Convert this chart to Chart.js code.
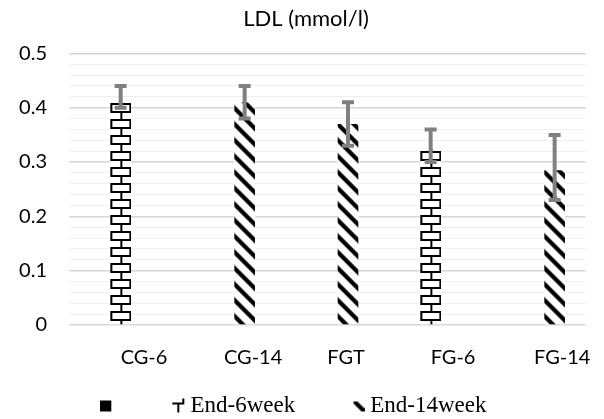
<!DOCTYPE html>
<html>
<head>
<meta charset="utf-8">
<title>LDL (mmol/l)</title>
<script src="https://cdn.jsdelivr.net/npm/chart.js@4.4.0/dist/chart.umd.min.js"></script>
<style>
    html, body { margin: 0; padding: 0; background: #fff; }
    #wrap { width: 604px; height: 419px; }
</style>
</head>
<body>
<div id="wrap"><canvas id="ldl-chart" width="604" height="419"></canvas></div>
<script>
// Chart data
const groups = ['CG-6', 'CG-14', 'FGT', 'FG-6', 'FG-14'];
const seriesNames = ['', 'End-6week', 'End-14week'];
const blankValues = [null, null, null, null, null];
const week6Values = [0.41, null, null, 0.325, null];
const week14Values = [null, 0.41, 0.37, null, 0.285];
const week6ErrHigh = [0.44, null, null, 0.36, null];
const week6ErrLow = [0.40, null, null, 0.30, null];
const week14ErrHigh = [null, 0.44, 0.41, null, 0.35];
const week14ErrLow = [null, 0.38, 0.33, null, 0.23];
const yTicks = [0, 0.1, 0.2, 0.3, 0.4, 0.5];

const CAT_PCT = 0.6;
const tileCache = {};

/**
 * Brick tile, one brick wide, joints alternate centre / edges
 */
function makeBrickTile(width) {
    const tile = document.createElement('canvas');
    tile.width = width;
    tile.height = 16;
    const g = tile.getContext('2d');
    g.fillStyle = '#fff';
    g.fillRect(0, 0, width, 16);
    g.fillStyle = '#000';
    g.fillRect(0, 0, width, 2);
    g.fillRect(Math.round(width / 2) - 1, 2, 2, 6);
    g.fillRect(0, 8, width, 2);
    g.fillRect(0, 10, 2, 6);
    g.fillRect(width - 2, 10, 2, 6);
    return tile;
}

/**
 * Wide downward diagonal tile
 */
function makeStripeTile(background) {
    const tile = document.createElement('canvas');
    tile.width = 16;
    tile.height = 16;
    const g = tile.getContext('2d');
    if (background) {
        g.fillStyle = background;
        g.fillRect(0, 0, 16, 16);
    }
    g.fillStyle = '#000';
    [-16, 0, 16].forEach(o => {
        g.beginPath();
        g.moveTo(o, 0);
        g.lineTo(o + 6, 0);
        g.lineTo(o + 22, 16);
        g.lineTo(o + 16, 16);
        g.closePath();
        g.fill();
    });
    return tile;
}

/**
 * Pattern fill lined up with the bar it paints
 */
function barPattern(context, kind) {
    const chart = context.chart;
    const xScale = chart.scales.x;
    if (!xScale || !chart.chartArea || context.dataIndex === undefined) return '#000';
    const slot = xScale.width / groups.length * CAT_PCT / 3;
    const center = xScale.getPixelForValue(context.dataIndex);
    const left = center + (context.datasetIndex - 1.5) * slot;
    if (!isFinite(left) || !isFinite(slot) || slot <= 0) return '#000';

    const key = kind + Math.round(slot);
    if (!tileCache[key]) {
        tileCache[key] = kind === 'brick' ? makeBrickTile(Math.round(slot)) : makeStripeTile('#fff');
    }
    const pattern = chart.ctx.createPattern(tileCache[key], 'repeat');
    pattern.setTransform(new DOMMatrix().translate(left, chart.chartArea.bottom - 6));
    return pattern;
}

/**
 * Legend glyphs (drawn as point style images)
 */
function makeIcon(width, draw) {
    const c = document.createElement('canvas');
    c.width = width;
    c.height = 16;
    draw(c.getContext('2d'));
    return c;
}

const legendIcons = {
    1: makeIcon(104, g => {
        g.fillStyle = '#000';
        g.fillRect(0, 3, 11, 11);
        g.fillRect(72, 5, 12, 2);
        g.fillRect(77, 7, 2, 8);
        g.fillRect(82, 1, 2, 4);
    }),
    2: makeIcon(65, g => {
        g.fillStyle = g.createPattern(makeStripeTile(null), 'repeat');
        g.fillRect(54, 4, 11, 10);
    })
};

function isMajor(value) {
    return yTicks.some(t => Math.abs(t - value) < 1e-6);
}

// Draw error bars on top of the bars
const errorBarsPlugin = {
    id: 'errorBars',
    afterDatasetsDraw(chart) {
        const ctx = chart.ctx;
        const yScale = chart.scales.y;
        chart.data.datasets.forEach((ds, di) => {
            if (!ds.errHigh) return;
            const meta = chart.getDatasetMeta(di);
            meta.data.forEach((bar, i) => {
                if (ds.errHigh[i] == null) return;
                const yTop = yScale.getPixelForValue(ds.errHigh[i]);
                const yBot = yScale.getPixelForValue(ds.errLow[i]);
                ctx.save();
                ctx.strokeStyle = '#808080';
                ctx.lineWidth = 4;
                ctx.beginPath();
                ctx.moveTo(bar.x, yTop);
                ctx.lineTo(bar.x, yBot);
                ctx.moveTo(bar.x - 6, yTop);
                ctx.lineTo(bar.x + 6, yTop);
                ctx.moveTo(bar.x - 6, yBot);
                ctx.lineTo(bar.x + 6, yBot);
                ctx.stroke();
                ctx.restore();
            });
        });
    }
};

const textFont = { family: 'Lato', size: 20 };

new Chart(document.getElementById('ldl-chart'), {
    type: 'bar',
    data: {
        labels: groups,
        datasets: [
            {
                label: seriesNames[0],
                data: blankValues,
                backgroundColor: '#000'
            },
            {
                label: seriesNames[1],
                data: week6Values,
                backgroundColor: ctx => barPattern(ctx, 'brick'),
                errHigh: week6ErrHigh,
                errLow: week6ErrLow
            },
            {
                label: seriesNames[2],
                data: week14Values,
                backgroundColor: ctx => barPattern(ctx, 'stripe'),
                errHigh: week14ErrHigh,
                errLow: week14ErrLow
            }
        ]
    },
    options: {
        responsive: false,
        devicePixelRatio: 1,
        animation: false,
        events: [],
        categoryPercentage: CAT_PCT,
        barPercentage: 1,
        borderWidth: 0,
        layout: {
            padding: { left: 14, right: 6, top: 0, bottom: -8 }
        },
        scales: {
            x: {
                grid: { display: false },
                border: { display: false },
                ticks: {
                    align: 'start',
                    padding: 13,
                    color: '#000',
                    font: textFont,
                    maxRotation: 0,
                    autoSkip: false
                },
                afterFit(scale) {
                    scale.height = 59;
                }
            },
            y: {
                min: 0,
                max: 0.5,
                ticks: {
                    stepSize: 0.02,
                    maxTicksLimit: 40,
                    autoSkip: false,
                    padding: 22,
                    color: '#000',
                    font: textFont,
                    callback(value) {
                        if (!isMajor(value)) return '';
                        return Math.abs(value) < 1e-9 ? '0' : value.toFixed(1);
                    }
                },
                grid: {
                    drawTicks: false,
                    color: ctx => isMajor(ctx.tick.value) ? '#d6d6d6' : '#efefef',
                    lineWidth: ctx => isMajor(ctx.tick.value) ? 1.5 : 1
                },
                border: { display: false },
                afterFit(scale) {
                    scale.width = 55;
                }
            }
        },
        plugins: {
            title: {
                display: true,
                text: 'LDL (mmol/l)',
                color: '#000',
                font: { family: 'Lato', size: 22, weight: 'normal' },
                padding: { top: 6, bottom: 21 }
            },
            legend: {
                position: 'bottom',
                labels: {
                    usePointStyle: true,
                    pointStyleWidth: 53.5,
                    padding: 10,
                    color: '#000',
                    font: { family: 'Liberation Serif', size: 23 },
                    filter: item => item.text !== '',
                    generateLabels(chart) {
                        const items = Chart.defaults.plugins.legend.labels.generateLabels(chart);
                        return items.map(item => ({ ...item, pointStyle: legendIcons[item.datasetIndex] || item.pointStyle }));
                    }
                }
            },
            tooltip: { enabled: false }
        }
    },
    plugins: [errorBarsPlugin]
});
</script>
</body>
</html>
